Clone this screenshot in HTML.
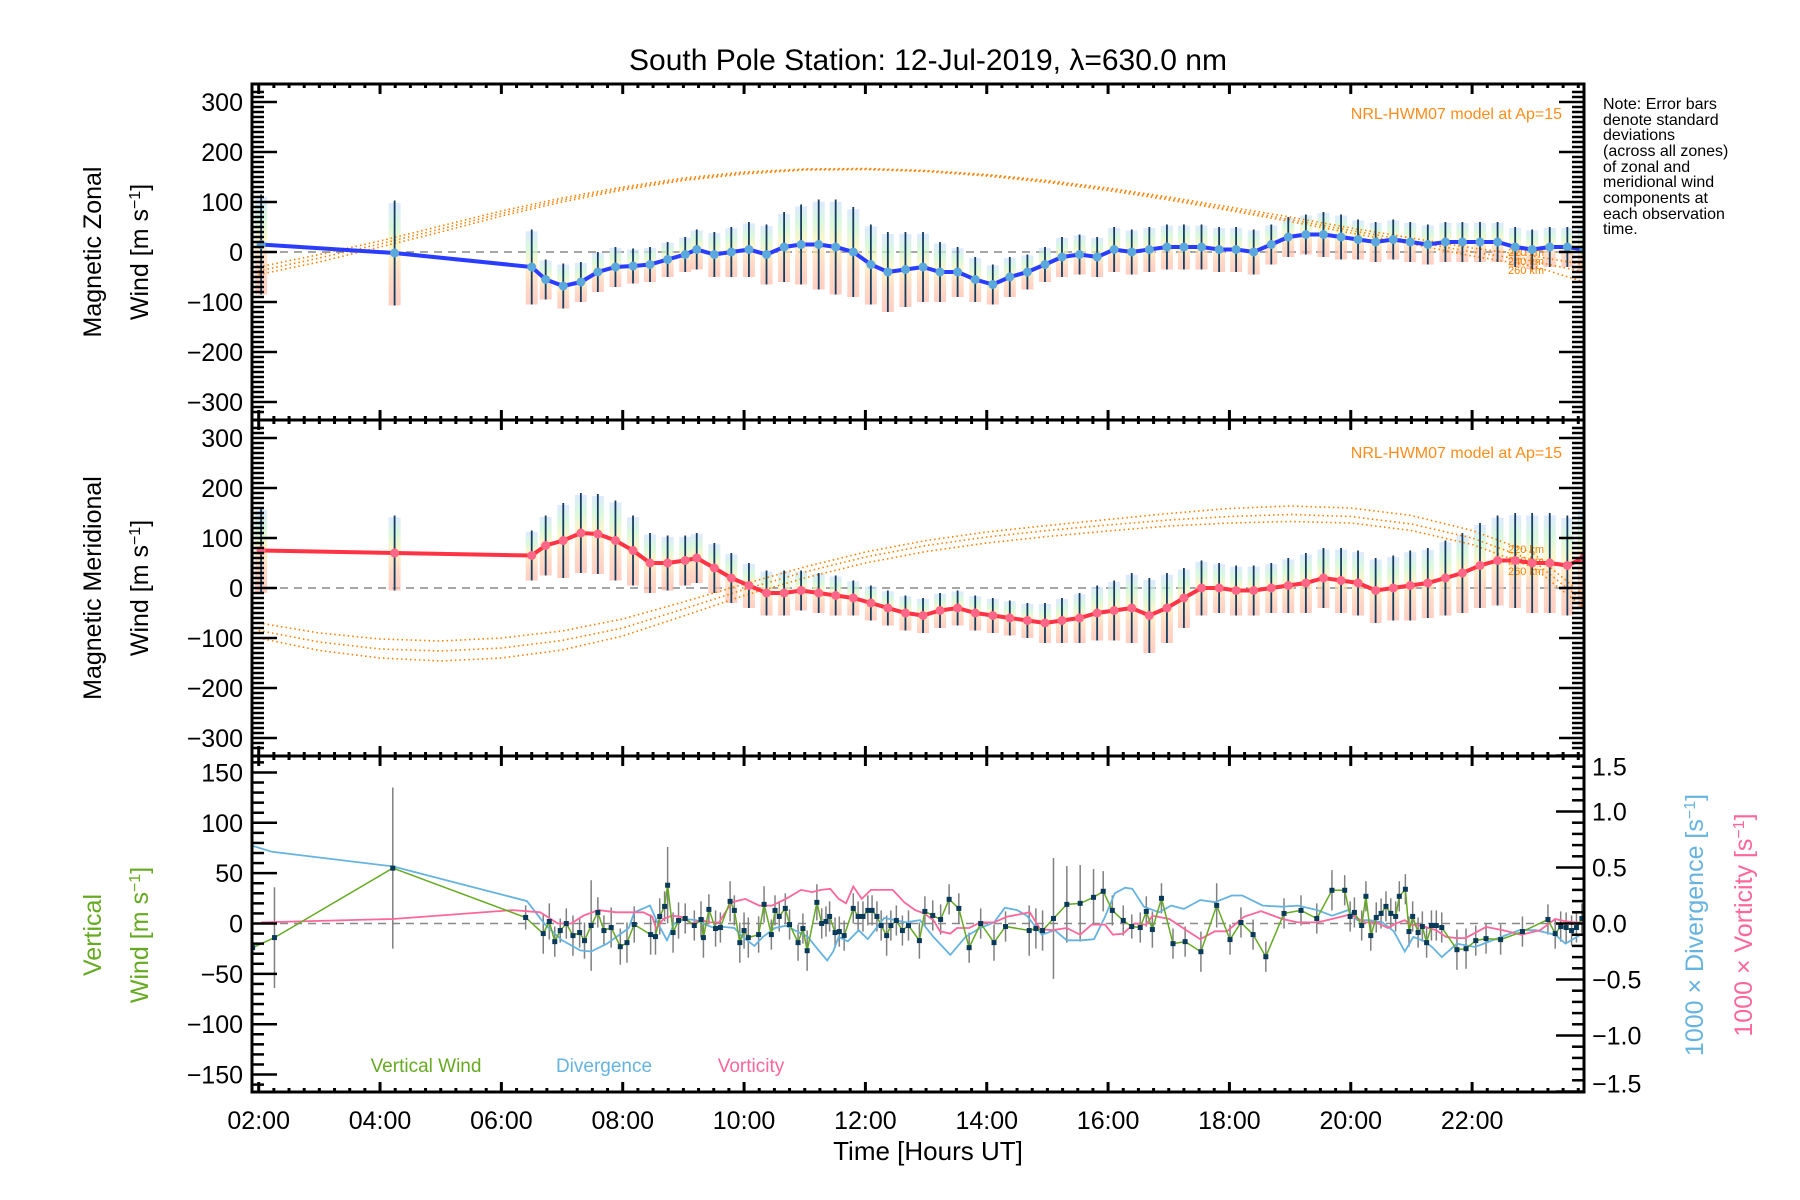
<!DOCTYPE html>
<html><head><meta charset="utf-8"><style>
html,body{margin:0;padding:0;background:#fff;}
svg{display:block;font-family:"Liberation Sans",sans-serif;}
</style></head><body>
<svg id="chart" width="1800" height="1200" viewBox="0 0 1800 1200" xmlns="http://www.w3.org/2000/svg">
<defs>
<linearGradient id="band" x1="0" y1="0" x2="0" y2="1">
<stop offset="0" stop-color="#d0e0ff"/><stop offset="0.22" stop-color="#c8f5d0"/><stop offset="0.45" stop-color="#fff2b0"/><stop offset="0.7" stop-color="#ffcdb0"/><stop offset="1" stop-color="#ffb8a8"/>
</linearGradient>
<clipPath id="c1"><rect x="252" y="84" width="1332" height="336"/></clipPath>
<clipPath id="c2"><rect x="252" y="420" width="1332" height="336"/></clipPath>
<clipPath id="c3"><rect x="252" y="756" width="1332" height="336"/></clipPath>
</defs>
<text x="928" y="70" font-size="30" text-anchor="middle">South Pole Station: 12-Jul-2019, λ=630.0 nm</text>
<g id="g1" clip-path="url(#c1)"></g>
<g id="g2" clip-path="url(#c2)"></g>
<g id="g3" clip-path="url(#c3)"></g>
<g id="axes"></g>
<text transform="translate(101,252) rotate(-90)" font-size="25" text-anchor="middle">Magnetic Zonal</text>
<text transform="translate(148,252) rotate(-90)" font-size="25" text-anchor="middle">Wind [m s<tspan baseline-shift="super" font-size="16">−1</tspan>]</text>
<text transform="translate(101,588) rotate(-90)" font-size="25" text-anchor="middle">Magnetic Meridional</text>
<text transform="translate(148,588) rotate(-90)" font-size="25" text-anchor="middle">Wind [m s<tspan baseline-shift="super" font-size="16">−1</tspan>]</text>
<text transform="translate(101,935) rotate(-90)" font-size="25" fill="#66aa22" text-anchor="middle">Vertical</text>
<text transform="translate(148,935) rotate(-90)" font-size="25" fill="#66aa22" text-anchor="middle">Wind [m s<tspan baseline-shift="super" font-size="16">−1</tspan>]</text>
<text transform="translate(1703,925) rotate(-90)" font-size="25" fill="#66b3e0" text-anchor="middle">1000 × Divergence [s<tspan baseline-shift="super" font-size="16">−1</tspan>]</text>
<text transform="translate(1752,925) rotate(-90)" font-size="25" fill="#ff6699" text-anchor="middle">1000 × Vorticity [s<tspan baseline-shift="super" font-size="16">−1</tspan>]</text>
<text x="928" y="1160" font-size="26" text-anchor="middle">Time [Hours UT]</text>
<text x="1562" y="119" font-size="16" fill="#ff8c1a" text-anchor="end">NRL-HWM07 model at Ap=15</text>
<text x="1562" y="458" font-size="16" fill="#ff8c1a" text-anchor="end">NRL-HWM07 model at Ap=15</text>
<text x="426" y="1072" font-size="19" fill="#66aa22" text-anchor="middle">Vertical Wind</text>
<text x="604" y="1072" font-size="19" fill="#66b3e0" text-anchor="middle">Divergence</text>
<text x="751" y="1072" font-size="19" fill="#ff6699" text-anchor="middle">Vorticity</text>
<g font-size="16">
<text x="1603" y="109">Note: Error bars</text>
<text x="1603" y="125">denote standard</text>
<text x="1603" y="140">deviations</text>
<text x="1603" y="156">(across all zones)</text>
<text x="1603" y="172">of zonal and</text>
<text x="1603" y="187">meridional wind</text>
<text x="1603" y="203">components at</text>
<text x="1603" y="219">each observation</text>
<text x="1603" y="234">time.</text>
</g>
</svg>
<script>
// ---- data ----
const obsTimes = [2.04,4.24,6.50,6.73,7.02,7.31,7.59,7.88,8.17,8.45,8.74,9.03,9.22,9.51,9.79,10.08,10.37,10.66,10.94,11.23,11.51,11.80,12.09,12.37,12.66,12.95,13.23,13.52,13.81,14.10,14.38,14.67,14.96,15.24,15.53,15.82,16.10,16.39,16.68,16.97,17.25,17.54,17.83,18.11,18.40,18.69,18.97,19.26,19.55,19.84,20.12,20.41,20.70,20.98,21.27,21.56,21.84,22.13,22.42,22.71,22.99,23.28,23.57,23.84];
const zonalWind = [15,-2,-30,-55,-68,-60,-40,-30,-28,-25,-15,-5,5,-5,0,5,-5,10,15,15,10,0,-25,-40,-35,-30,-40,-40,-55,-65,-50,-40,-25,-10,-5,-10,5,0,5,10,10,10,5,5,0,15,30,35,35,30,25,20,25,20,15,20,20,20,20,10,5,10,10,5];
const zonalStd = [100,105,75,40,45,40,40,40,35,35,35,35,40,45,50,55,60,70,80,90,95,90,80,80,75,70,60,50,45,40,40,35,35,40,40,40,45,45,45,45,45,45,45,45,45,40,40,40,45,45,40,40,40,40,40,40,40,40,40,40,40,40,40,45];
const meridWind = [75,70,65,85,95,110,108,95,75,50,50,55,60,40,20,5,-10,-10,-5,-10,-15,-20,-30,-40,-50,-55,-45,-40,-50,-55,-60,-65,-70,-65,-60,-50,-45,-40,-55,-40,-20,0,0,-5,-5,0,5,10,20,15,10,-5,0,5,10,20,30,45,55,55,50,50,45,60];
const meridStd = [85,75,50,60,75,80,80,80,70,60,55,50,50,50,50,45,45,45,40,40,40,35,35,35,35,35,35,35,35,35,35,35,40,45,50,55,60,70,75,70,60,55,50,50,50,50,55,60,60,65,65,65,65,70,70,75,80,85,90,95,100,100,100,100];
const modelHours = [2,3,4,5,6,7,8,9,10,11,12,13,14,15,16,17,18,19,20,21,22,23,23.85];
const zonal220 = [-30,-5,22,52,82,108,130,148,160,166,167,163,155,143,128,110,90,70,48,28,8,-8,-25];
const zonal240 = [-38,-12,16,46,77,104,127,145,158,165,166,162,154,141,126,107,86,65,43,22,0,-18,-40];
const zonal260 = [-45,-20,10,40,72,100,124,143,156,164,165,161,152,139,123,104,83,61,38,16,-8,-28,-60];
const merid220 = [-70,-90,-102,-106,-100,-86,-62,-28,8,42,72,95,112,125,137,149,159,164,160,145,115,70,-15];
const merid240 = [-85,-108,-122,-126,-120,-105,-80,-42,-3,32,62,85,102,115,126,136,143,147,143,128,100,55,-28];
const merid260 = [-100,-125,-140,-146,-140,-124,-96,-56,-15,20,50,73,90,103,114,124,130,133,130,115,87,42,-40];
const vwTimes = [1.90,2.26,4.21,6.40,6.69,6.79,6.88,6.97,7.07,7.18,7.29,7.37,7.48,7.59,7.69,7.81,7.96,8.07,8.19,8.46,8.54,8.61,8.69,8.74,8.83,8.92,9.03,9.18,9.29,9.33,9.42,9.53,9.61,9.77,9.84,9.93,10.00,10.07,10.24,10.33,10.45,10.51,10.58,10.68,10.75,10.89,10.97,11.04,11.20,11.28,11.35,11.41,11.50,11.57,11.65,11.80,11.88,11.96,12.04,12.11,12.19,12.26,12.35,12.42,12.51,12.61,12.71,12.89,12.98,13.11,13.24,13.38,13.54,13.71,13.90,14.12,14.31,14.70,14.81,14.92,15.10,15.32,15.54,15.76,15.92,16.07,16.25,16.39,16.53,16.63,16.73,16.88,17.07,17.27,17.53,17.79,18.01,18.19,18.39,18.60,18.90,19.18,19.44,19.69,19.90,19.99,20.06,20.18,20.25,20.33,20.42,20.50,20.58,20.66,20.74,20.80,20.90,20.96,21.02,21.11,21.18,21.25,21.33,21.41,21.50,21.75,21.90,22.06,22.23,22.47,22.83,23.25,23.37,23.46,23.55,23.64,23.72,23.81];
const vwValues = [-24,-14,55,6,-10,2,-18,-7,0,-12,-9,-17,-2,11,-7,-4,-23,-19,-1,-11,-13,7,17,38,-9,3,5,-2,4,-14,14,-5,-4,22,13,-19,-7,-14,-11,19,-11,13,7,15,-1,-19,-5,-27,21,0,2,7,-9,-8,-12,15,7,7,13,13,7,-2,-12,-2,3,-7,-2,-17,12,8,4,24,15,-24,0,-19,-3,-7,-5,-7,5,19,20,26,32,13,3,-3,-4,12,-6,25,-20,-18,-28,18,-16,1,-11,-33,10,13,5,33,33,7,11,-2,27,-12,6,10,17,10,7,27,34,-8,7,-9,-3,-19,-2,-2,-4,-26,-25,-17,-15,-16,-8,4,-10,-3,-4,-7,-4,5];
const vwErr = [20,50,80,12,20,18,15,12,15,20,15,18,45,15,15,20,18,20,18,20,18,18,15,38,20,18,15,15,18,20,15,18,15,20,15,20,18,20,18,18,15,15,15,15,15,18,15,20,18,15,15,15,15,15,15,15,15,15,15,15,15,15,20,15,15,15,15,18,15,15,15,15,15,15,15,18,15,25,20,20,60,38,38,28,20,15,15,12,15,15,18,15,15,15,20,22,15,15,15,15,15,15,15,20,15,15,15,15,15,15,15,15,15,15,15,15,15,15,15,15,15,15,15,15,15,20,20,15,15,15,15,15,15,15,15,15,15,15];
const divTimes = [1.86,2.22,4.21,6.42,6.72,7.00,7.30,7.48,7.74,8.10,8.19,8.45,8.58,8.73,8.85,9.03,9.21,9.36,9.51,9.66,9.84,9.98,10.17,10.31,10.51,10.69,10.87,11.05,11.23,11.37,11.47,11.56,11.71,11.89,12.04,12.31,12.49,12.67,12.90,13.12,13.40,13.65,13.89,14.12,14.30,14.50,14.66,14.91,15.12,15.32,15.57,15.77,15.95,16.11,16.28,16.40,16.59,16.84,17.04,17.25,17.52,17.76,18.04,18.21,18.55,18.87,19.13,19.45,19.69,19.96,20.11,20.31,20.52,20.71,20.89,21.03,21.22,21.34,21.50,21.75,22.05,22.43,22.78,23.05,23.37,23.54,23.82];
const divValues = [0.70,0.64,0.51,0.20,-0.01,-0.15,-0.24,-0.25,-0.18,-0.04,0.10,0.16,0.00,-0.15,0.00,0.04,0.03,-0.01,-0.04,-0.03,-0.04,-0.12,-0.20,-0.12,-0.04,-0.02,-0.07,-0.12,-0.24,-0.33,-0.25,-0.12,-0.16,-0.06,-0.14,0.05,0.03,0.01,0.03,-0.12,-0.28,-0.12,-0.04,0.01,0.14,0.12,0.07,-0.10,-0.06,-0.15,-0.15,-0.14,0.06,0.27,0.32,0.31,0.15,0.10,0.16,0.13,0.21,0.19,0.25,0.25,0.16,0.15,0.16,0.12,0.07,0.12,0.03,0.03,0.01,-0.07,-0.25,-0.12,-0.16,-0.21,-0.30,-0.18,-0.21,-0.13,-0.06,-0.06,-0.10,-0.18,-0.09];
const vortTimes = [2.04,4.21,6.19,6.64,6.93,7.15,7.35,7.60,7.89,8.34,8.49,8.55,8.67,8.81,8.96,9.14,9.29,9.44,9.59,9.69,9.80,10.02,10.25,10.46,10.69,10.94,11.12,11.27,11.42,11.56,11.68,11.80,11.94,12.09,12.45,12.64,12.82,12.97,13.12,13.23,13.40,13.51,13.71,13.89,14.12,14.33,14.71,14.88,15.08,15.32,15.54,15.73,15.95,16.08,16.25,16.43,16.63,16.73,17.01,17.29,17.52,17.76,17.96,18.24,18.52,18.87,19.13,19.45,19.69,19.99,20.24,20.43,20.61,20.75,20.89,20.99,21.16,21.41,21.57,21.75,21.89,22.23,22.51,22.81,23.12,23.37,23.54,23.70,23.86];
const vortValues = [0.01,0.04,0.12,0.10,0.00,0.00,0.07,0.12,0.10,0.10,0.06,-0.05,0.04,0.07,0.06,0.00,0.03,0.01,0.01,0.10,0.19,0.22,0.16,0.16,0.22,0.30,0.28,0.30,0.31,0.22,0.18,0.33,0.22,0.30,0.30,0.19,0.12,0.09,0.03,-0.07,-0.09,-0.04,-0.04,0.01,0.01,0.06,0.10,-0.05,-0.06,-0.04,-0.10,-0.01,-0.01,-0.10,-0.09,0.00,-0.01,0.07,0.04,-0.06,-0.14,-0.07,-0.07,0.06,0.11,0.04,0.01,0.01,0.04,0.08,0.01,0.01,-0.04,0.00,0.03,-0.01,-0.02,-0.06,-0.12,-0.13,-0.13,-0.03,-0.06,-0.10,-0.06,0.04,0.02,0.01,0.01];
const xTickHours = [2,4,6,8,10,12,14,16,18,20,22];
const xTickLabels = ["02:00","04:00","06:00","08:00","10:00","12:00","14:00","16:00","18:00","20:00","22:00"];
const windTicks = [-300,-200,-100,0,100,200,300];
const vertTicks = [-150,-100,-50,0,50,100,150];
const rightTicks = [-1.5,-1.0,-0.5,0.0,0.5,1.0,1.5];
const altLabels = ["220 km","240 km","260 km"];

// ---- scales ----
const NS="http://www.w3.org/2000/svg";
const X0=252, X1=1584;
function xS(t){return 258.7+(t-2)*60.67;}
function y1(v){return 252-v*0.5;}
function y2(v){return 588-v*0.5;}
function y3(v){return 923.5-v*1.007;}
function y3r(v){return 923.5-v*112;}
function mk(tag,attrs,parent){const e=document.createElementNS(NS,tag);for(const k in attrs)e.setAttribute(k,attrs[k]);parent.appendChild(e);return e;}
function pathD(ts,vs,ys){let d="";const n=Math.min(ts.length,vs.length);for(let i=0;i<n;i++){d+=(i?"L":"M")+xS(ts[i]).toFixed(1)+","+ys(vs[i]).toFixed(1);}return d;}
const g1=document.getElementById("g1"),g2=document.getElementById("g2"),g3=document.getElementById("g3"),ax=document.getElementById("axes");

function windPanel(g,ys,mean,std,lineColor,dotColor,models,nameBase){
  let z=mk("line",{x1:X0,x2:X1,y1:ys(0),y2:ys(0),stroke:"#888","stroke-width":1.5,"stroke-dasharray":"8,6"},g);
  
  
  const n=Math.min(obsTimes.length,mean.length,std.length);
  for(let i=0;i<n;i++){
    const x=xS(obsTimes[i]);
    const r=mk("rect",{x:x-6,y:ys(mean[i]+std[i]*0.95),width:12,height:(std[i]*1.95)*0.5,fill:"url(#band)",opacity:0.7},g);
    
    
  }
  models.forEach((m,k)=>{
    const p=mk("path",{d:pathD(modelHours,m,ys),fill:"none",stroke:"#ff8000","stroke-width":1.6,"stroke-dasharray":"1.5,3"},g);
    
    
    const t=mk("text",{x:1508,y:ys(m[21])+ (k-1)*4 + 4,"font-size":11,fill:"#ff8000"},g);
    t.textContent=altLabels[k];
    
    
  });
  for(let i=0;i<n;i++){
    const x=xS(obsTimes[i]);
    const l=mk("line",{x1:x,x2:x,y1:ys(mean[i]+std[i]),y2:ys(mean[i]-std[i]),stroke:"#163e5e","stroke-width":1.8},g);
    
    
  }
  const p=mk("path",{d:pathD(obsTimes,mean,ys),fill:"none",stroke:lineColor,"stroke-width":4},g);
  
  
  for(let i=0;i<n;i++){
    const c=mk("circle",{cx:xS(obsTimes[i]),cy:ys(mean[i]),r:4.5,fill:dotColor},g);
    
    
  }
}
windPanel(g1,y1,zonalWind,zonalStd,"#2a3cff","#5aa8de",[zonal220,zonal240,zonal260],"zonal");
windPanel(g2,y2,meridWind,meridStd,"#ff3344","#ff6688",[merid220,merid240,merid260],"meridional");

// bottom panel
let zl=mk("line",{x1:X0,x2:X1,y1:y3(0),y2:y3(0),stroke:"#888","stroke-width":1.5,"stroke-dasharray":"8,6"},g3);


const nv=Math.min(vwTimes.length,vwValues.length,vwErr.length);
for(let i=0;i<nv;i++){
  const x=xS(vwTimes[i]);
  const l=mk("line",{x1:x,x2:x,y1:y3(vwValues[i]+vwErr[i]),y2:y3(vwValues[i]-vwErr[i]),stroke:"#808080","stroke-width":1.5},g3);
  
  
}
let dp=mk("path",{d:pathD(divTimes,divValues,y3r),fill:"none",stroke:"#66b3e0","stroke-width":1.8},g3);


let vp=mk("path",{d:pathD(vortTimes,vortValues,y3r),fill:"none",stroke:"#ff6699","stroke-width":1.8},g3);


let wp=mk("path",{d:pathD(vwTimes,vwValues,y3),fill:"none",stroke:"#66aa22","stroke-width":1.5},g3);


for(let i=0;i<nv;i++){
  const r=mk("rect",{x:xS(vwTimes[i])-2.5,y:y3(vwValues[i])-2.5,width:5,height:5,fill:"#0a3a5a"},g3);
  
  
}

// axes frames and ticks
const panels=[{top:84,bot:420,ys:y1,ticks:windTicks,minor:10,major:100},{top:420,bot:756,ys:y2,ticks:windTicks,minor:10,major:100},{top:756,bot:1092,ys:y3,ticks:vertTicks,minor:10,major:50}];
panels.forEach((p,pi)=>{
  const fr=mk("rect",{x:X0,y:p.top,width:X1-X0,height:p.bot-p.top,fill:"none",stroke:"#000","stroke-width":3},ax);
  
  
  const lo=p.ticks[0], hi=p.ticks[p.ticks.length-1];
  for(let v=lo-20; v<=hi+20; v+=p.minor){
    const y=p.ys(v); if(y<p.top+2||y>p.bot-2) continue;
    const isMaj=Math.abs(v%p.major)<1e-6;
    const len=isMaj?25:12;
    mk("line",{x1:X0,x2:X0+len,y1:y,y2:y,stroke:"#000","stroke-width":2.5},ax);
    if(pi<2) mk("line",{x1:X1,x2:X1-len,y1:y,y2:y,stroke:"#000","stroke-width":2.5},ax);
  }
  p.ticks.forEach(v=>{
    const t=mk("text",{x:243,y:p.ys(v)+9,"font-size":25,"text-anchor":"end"},ax);
    t.textContent=(v<0?"−":"")+Math.abs(v);
    
    
  });
  for(let h=2; h<=23.85; h+=0.25){
    const x=xS(h); if(x<X0||x>X1) continue;
    const isMaj=Math.abs(h%2)<1e-6;
    const len=isMaj?10:4;
    mk("line",{x1:x,x2:x,y1:p.bot,y2:p.bot-len,stroke:"#000","stroke-width":3},ax);
    mk("line",{x1:x,x2:x,y1:p.top,y2:p.top+len,stroke:"#000","stroke-width":3},ax);
  }
});
// right axis bottom panel
for(let v=-1.5; v<=1.5001; v+=0.1){
  const y=y3r(v); const isMaj=Math.abs((v*10)%5)<1e-3||Math.abs(Math.abs((v*10)%5)-5)<1e-3;
  mk("line",{x1:X1,x2:X1-(isMaj?28:12),y1:y,y2:y,stroke:"#000","stroke-width":2.5},ax);
}
rightTicks.forEach(v=>{
  let y=y3r(v)+9; if(v===1.5) y+=11; if(v===-1.5) y-=8;
  const t=mk("text",{x:1592,y:y,"font-size":25},ax);
  t.textContent=(v<0?"−":"")+Math.abs(v).toFixed(1);
  
  
});
xTickHours.forEach((h,i)=>{
  const t=mk("text",{x:xS(h),y:1129,"font-size":25,"text-anchor":"middle"},ax);
  t.textContent=xTickLabels[i];
  
  
});
</script>
</body></html>
